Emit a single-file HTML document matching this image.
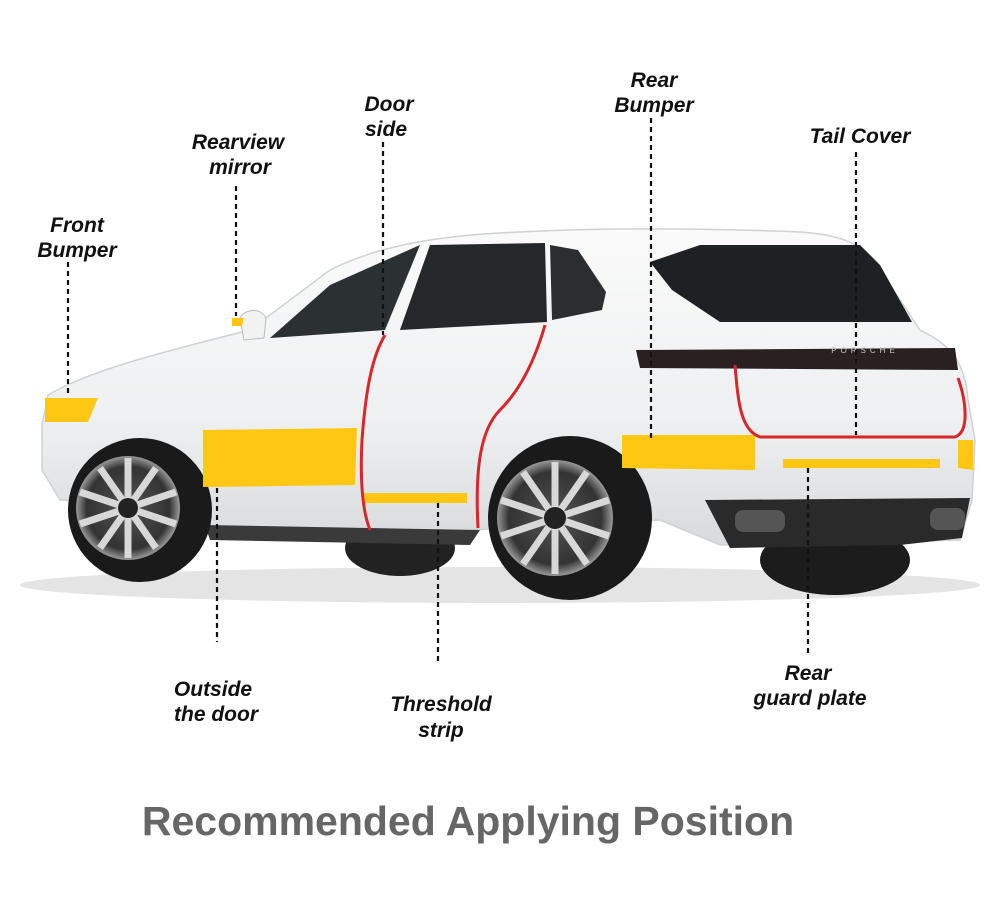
<!DOCTYPE html>
<html><head><meta charset="utf-8"><style>
html,body{margin:0;padding:0;background:#fff;}
svg{display:block;}
.l{font-family:"Liberation Sans",sans-serif;font-weight:bold;font-style:italic;font-size:21px;fill:#111;text-anchor:middle;}
.d{stroke:#111;stroke-width:2.2;stroke-dasharray:5,4;fill:none;}
.sp{stroke:#d8d8d8;stroke-width:7;}
</style></head><body>
<svg width="1000" height="898" viewBox="0 0 1000 898" xmlns="http://www.w3.org/2000/svg">
<defs>
<radialGradient id="rim" cx="50%" cy="50%" r="50%"><stop offset="0" stop-color="#555"/><stop offset="0.8" stop-color="#333"/><stop offset="1" stop-color="#999"/></radialGradient>
<linearGradient id="body" x1="0" y1="0" x2="0" y2="1"><stop offset="0" stop-color="#fafafa"/><stop offset="0.6" stop-color="#eef0f1"/><stop offset="1" stop-color="#d8dadc"/></linearGradient>
</defs>
<ellipse cx="500" cy="585" rx="480" ry="18" fill="#e4e4e4"/>
<ellipse cx="400" cy="548" rx="55" ry="28" fill="#222"/>
<ellipse cx="835" cy="560" rx="75" ry="35" fill="#1c1c1c"/>
<path d="M42,425 L48,395 C90,370 170,350 250,330 L330,270 C380,245 440,235 520,232 C600,228 700,228 800,232 C850,235 870,250 880,270 L920,330 C950,345 965,360 968,400 L975,440 L972,500 L960,540 L720,545 L660,520 L470,530 L360,535 L200,530 L150,505 L60,500 L42,470 Z" fill="url(#body)" stroke="#cfd2d4" stroke-width="1.5"/>
<path d="M705,500 L970,498 L962,538 L900,545 L730,548 Z" fill="#2a2a2a"/>
<rect x="735" y="510" width="50" height="22" rx="8" fill="#555"/>
<rect x="930" y="508" width="35" height="22" rx="8" fill="#555"/>
<path d="M205,525 L480,530 L470,545 L210,540 Z" fill="#3a3a3a"/>
<path d="M270,338 L330,285 L420,245 L385,330 Z" fill="#2b3033"/>
<path d="M400,330 L430,245 L545,243 L547,322 Z" fill="#24282a"/>
<path d="M550,245 L578,250 L606,292 L602,310 L552,320 Z" fill="#2a2e30"/>
<path d="M650,262 L700,245 L860,245 L880,265 L912,322 L720,322 L672,290 Z" fill="#1e2124"/>
<path d="M240,318 C245,308 262,308 266,318 L264,338 L244,340 Z" fill="#f2f2f2" stroke="#bbb"/>
<path d="M636,350 L955,348 L958,370 L640,368 Z" fill="#2a2020"/>
<text x="865" y="353" font-family="Liberation Sans" font-size="8" fill="#ccc" text-anchor="middle" letter-spacing="4">PORSCHE</text>
<circle cx="140" cy="510" r="72" fill="#1a1a1a"/>
<circle cx="128" cy="508" r="52" fill="url(#rim)"/>
<g class="sp"><line x1="128" y1="458" x2="128" y2="558"/><line x1="80" y1="492" x2="176" y2="524"/><line x1="80" y1="524" x2="176" y2="492"/><line x1="100" y1="468" x2="156" y2="548"/><line x1="156" y1="468" x2="100" y2="548"/></g>
<circle cx="128" cy="508" r="10" fill="#222"/>
<circle cx="570" cy="518" r="82" fill="#1a1a1a"/>
<circle cx="555" cy="518" r="58" fill="url(#rim)"/>
<g class="sp"><line x1="555" y1="462" x2="555" y2="574"/><line x1="501" y1="500" x2="609" y2="536"/><line x1="501" y1="536" x2="609" y2="500"/><line x1="523" y1="472" x2="587" y2="564"/><line x1="587" y1="472" x2="523" y2="564"/></g>
<circle cx="555" cy="518" r="11" fill="#222"/>
<path d="M45,398 L98,398 L88,422 L45,422 Z" fill="#fdc714"/>
<path d="M203,430 L357,428 L355,485 L203,487 Z" fill="#fdc714"/>
<path d="M363,493 L467,493 L467,503 L363,503 Z" fill="#fdc714"/>
<path d="M622,435 L755,435 L755,470 L622,468 Z" fill="#fdc714"/>
<path d="M783,459 L940,459 L940,468 L783,468 Z" fill="#fdc714"/>
<path d="M958,440 L973,440 L973,470 L958,468 Z" fill="#fdc714"/>
<path d="M232,318 L244,318 L242,326 L232,326 Z" fill="#fdc714"/>
<g fill="none" stroke="#d8262a" stroke-width="3">
<path d="M385,335 C370,360 365,400 362,440 C360,480 362,510 370,530"/>
<path d="M545,325 C535,360 520,390 500,410 C480,430 475,470 478,528"/>
<path d="M735,365 C738,400 740,430 760,437 L955,437 C970,432 966,400 958,378"/>
</g>
<path class="d" d="M68,262 V395"/>
<path class="d" d="M236,186 V316"/>
<path class="d" d="M383,142 V335"/>
<path class="d" d="M651,118 V440"/>
<path class="d" d="M856,152 V435"/>
<path class="d" d="M217,488 V642"/>
<path class="d" d="M438,503 V662"/>
<path class="d" d="M808,468 V656"/>
<text class="l" x="77" y="232">Front</text><text class="l" x="77" y="257">Bumper</text>
<text class="l" x="238" y="149">Rearview</text><text class="l" x="240" y="174">mirror</text>
<text class="l" x="389" y="111">Door</text><text class="l" x="386" y="136">side</text>
<text class="l" x="654" y="87">Rear</text><text class="l" x="654" y="112">Bumper</text>
<text class="l" x="860" y="143">Tail Cover</text>
<text class="l" x="213" y="696">Outside</text><text class="l" x="216" y="721">the door</text>
<text class="l" x="441" y="711">Threshold</text><text class="l" x="441" y="737">strip</text>
<text class="l" x="808" y="680">Rear</text><text class="l" x="810" y="705">guard plate</text>
<text x="468" y="835" font-family="Liberation Sans,sans-serif" font-weight="bold" font-size="41" fill="#666" text-anchor="middle">Recommended Applying Position</text>
</svg>
</body></html>
